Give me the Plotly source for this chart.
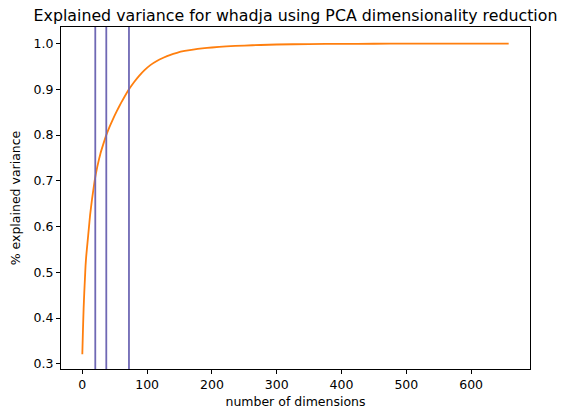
import plotly.graph_objects as go

# Values
dims = [0, 1, 2, 3, 4, 5, 6, 8, 10, 12, 15, 19, 23, 28, 33, 37, 42, 47, 53, 60,
        66, 72, 80, 88, 96, 105, 115, 125, 135, 146, 158, 171, 185, 200, 222, 250,
        275, 300, 350, 400, 450, 500, 560, 620, 658]
explained = [0.321, 0.375, 0.42, 0.455, 0.485, 0.515, 0.535, 0.565, 0.595, 0.625,
             0.66, 0.70, 0.73, 0.76, 0.783, 0.80, 0.818, 0.834, 0.852, 0.871,
             0.886, 0.90, 0.916, 0.930, 0.942, 0.953, 0.962, 0.969, 0.975, 0.980,
             0.984, 0.987, 0.9895, 0.9915, 0.9938, 0.9958, 0.997, 0.998, 0.999,
             0.9995, 0.9997, 0.9998, 0.99993, 1.0, 1.0]
thresholds_dims = [20, 37, 72]
x_ticks = [0, 100, 200, 300, 400, 500, 600]
y_ticks = [0.3, 0.4, 0.5, 0.6, 0.7, 0.8, 0.9, 1.0]

title = "Explained variance for whadja using PCA dimensionality reduction"
x_label = "number of dimensions"
y_label = "% explained variance"

W, H = 568, 419
L, R, T, B = 61, 530, 27, 377

fig = go.Figure()
fig.add_trace(go.Scatter(x=dims, y=explained, mode="lines",
                         line=dict(color="#ff7f0e", width=1.8, shape="spline", smoothing=0.4),
                         showlegend=False, hoverinfo="skip"))
for d in thresholds_dims:
    fig.add_vline(x=d, line=dict(color="#6f68b4", width=1.8))

font = "DejaVu Sans, sans-serif"
fig.update_layout(
    width=W, height=H,
    margin=dict(l=L, r=W - R, t=T, b=H - B, pad=0),
    paper_bgcolor="white", plot_bgcolor="white",
    font=dict(family=font, size=12.5, color="black"),
    title=dict(text=title, x=0.5, xref="paper", xanchor="center",
               y=1 - 15 / H, yref="container", yanchor="middle",
               font=dict(size=15.8, family=font, color="black")),
    xaxis=dict(range=[-32.9, 690.9], tickvals=x_ticks, ticktext=[str(v) for v in x_ticks],
               showgrid=False, zeroline=False, showline=True, linecolor="black", linewidth=1,
               mirror=True, ticks="outside", ticklen=4, tickwidth=1, tickcolor="black",
               title=dict(text=x_label, standoff=6, font=dict(size=12.5))),
    yaxis=dict(range=[0.2887, 1.0363], tickvals=y_ticks, ticktext=[f"{v:.1f}" for v in y_ticks],
               showgrid=False, zeroline=False, showline=True, linecolor="black", linewidth=1,
               mirror=True, ticks="outside", ticklen=4, tickwidth=1, tickcolor="black",
               title=dict(text=y_label, standoff=10, font=dict(size=12.5))),
)
fig.write_html("out.html")
